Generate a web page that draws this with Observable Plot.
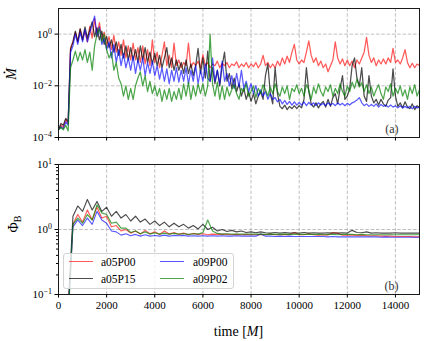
<!DOCTYPE html>
<html><head><meta charset="utf-8">
<script src="https://cdn.jsdelivr.net/npm/d3@7"></script>
<script src="https://cdn.jsdelivr.net/npm/@observablehq/plot@0.6"></script>
<style>
body{margin:0;background:#fff;}
#chart{position:relative;width:428px;height:341px;font-family:"Liberation Serif","DejaVu Serif",serif;background:#fff;overflow:hidden;}
#chart svg{position:absolute;left:0;}
#legend{position:absolute;left:63px;top:253px;width:169px;height:34px;background:rgba(255,255,255,0.8);border:1px solid #d3d3d3;border-radius:3px;font-size:11.5px;color:#000;}
#legend .sw{position:absolute;width:24px;height:0;border-top:1.5px solid;}
#legend .lb{position:absolute;line-height:12px;}
</style></head><body><div id="chart"><div id="legend"></div></div>
<script>
// ---- data ----
const seriesNames = ["a05P00", "a05P15", "a09P00", "a09P02"];
const seriesColors = ["#ff0000", "#000000", "#0000ff", "#008000"];
const seriesOpacity = [0.65, 0.7, 0.65, 0.7];

// Top panel: accretion rate, sampled every 100 M
const timeTop = d3.range(0, 15001, 100);
const mdot_a05P00 = [
 2.0e-4,3e-4,2.5e-4,5e-4,3.5e-4,0.3,0.5,1.2,0.5,1.6,
 0.6,1.3,0.5,2.0,0.7,4.0,0.8,2.8,0.6,1.2,
 0.35,0.8,0.25,0.9,0.2,0.5,0.15,0.6,0.12,0.35,
 0.1,0.45,0.1,0.3,0.08,0.35,0.07,0.25,0.06,0.6,
 0.08,0.2,0.05,0.15,0.5,0.06,0.15,0.05,0.45,0.06,
 0.1,0.05,0.08,0.06,0.45,0.05,0.08,0.06,0.09,0.05,
 0.16,0.06,0.08,0.05,0.07,0.06,0.09,0.05,0.075,0.06,
 0.08,0.05,0.07,0.06,0.085,0.05,0.07,0.055,0.08,0.05,
 0.07,0.055,0.08,0.05,0.07,0.15,0.06,0.08,0.05,0.07,
 0.05,0.09,0.06,0.12,0.07,0.14,0.08,0.2,0.4,0.1,
 0.07,0.1,0.08,0.2,0.55,0.15,0.08,0.12,0.06,0.09,
 0.05,0.07,0.035,0.06,0.1,0.5,0.12,0.07,0.11,0.06,
 0.1,0.06,0.09,0.05,0.1,0.07,0.12,0.2,0.75,0.15,
 0.08,0.12,0.06,0.1,0.07,0.11,0.07,0.12,0.08,0.28,
 0.08,0.1,0.07,0.12,0.25,0.08,0.05,0.075,0.05,0.07,
 0.06];
const mdot_a05P15 = [
 2e-4,3.5e-4,3e-4,5.5e-4,4e-4,0.25,0.5,1.3,0.5,1.6,
 0.6,1.9,0.7,1.5,3.0,0.8,1.8,0.6,1.3,0.4,
 0.8,0.3,0.6,0.2,0.5,0.15,0.4,0.12,0.35,0.1,
 0.3,0.1,0.25,0.08,0.35,0.1,0.3,0.08,0.2,0.07,
 0.18,0.06,0.15,0.05,0.12,0.3,0.05,0.12,0.04,0.1,
 0.04,0.08,0.03,0.1,0.03,0.07,0.025,0.06,0.28,0.03,
 0.12,0.02,0.22,0.015,0.05,0.012,0.04,0.01,0.06,0.2,
 0.015,0.03,0.008,0.02,0.006,0.012,0.004,0.008,0.003,0.006,
 0.0025,0.005,0.002,0.004,0.006,0.003,0.025,0.07,0.005,0.002,
 0.05,0.005,0.0016,0.0013,0.0018,0.0012,0.0016,0.0013,0.0017,0.0013,
 0.0017,0.0014,0.003,0.05,0.006,0.002,0.0015,0.0022,0.0014,0.002,
 0.0025,0.0015,0.003,0.0016,0.0035,0.005,0.002,0.008,0.025,0.003,
 0.004,0.008,0.06,0.12,0.02,0.01,0.05,0.004,0.0025,0.025,
 0.004,0.0022,0.003,0.0018,0.003,0.002,0.0016,0.0028,0.0035,0.045,
 0.004,0.0016,0.0022,0.0014,0.0024,0.0015,0.0013,0.002,0.0012,0.0017,
 0.0014];
const mdot_a09P00 = [
 2e-4,2.6e-4,2.2e-4,4e-4,3e-4,0.2,0.35,1.0,0.4,1.2,
 0.5,1.5,0.5,1.1,2.4,5.0,0.8,1.9,0.4,0.7,
 0.25,0.5,0.12,0.4,0.08,0.25,0.06,0.18,0.05,0.12,
 0.04,0.14,0.03,0.1,0.04,0.12,0.025,0.08,0.03,0.09,
 0.025,0.06,0.018,0.05,0.015,0.045,0.012,0.04,0.015,0.05,
 0.014,0.04,0.015,0.05,0.012,0.04,0.015,0.06,0.012,0.04,
 0.015,0.07,0.02,0.015,0.12,0.015,0.04,0.012,0.09,0.015,
 0.03,0.01,0.025,0.008,0.03,0.009,0.04,0.008,0.015,0.006,
 0.012,0.005,0.01,0.004,0.007,0.004,0.006,0.003,0.005,0.003,
 0.0035,0.0024,0.003,0.002,0.0027,0.0019,0.0025,0.0018,0.0024,0.0018,
 0.0023,0.0018,0.0024,0.0017,0.0023,0.0018,0.0022,0.0017,0.0022,0.0018,
 0.0021,0.0017,0.0022,0.0018,0.0021,0.0017,0.0022,0.0018,0.0021,0.0017,
 0.0021,0.0018,0.0022,0.0024,0.0028,0.0035,0.0022,0.0017,0.002,0.0016,
 0.0019,0.0016,0.002,0.0015,0.0019,0.0016,0.0018,0.0015,0.0018,0.0015,
 0.0017,0.0014,0.0017,0.0014,0.0016,0.0014,0.0016,0.0013,0.0016,0.0014,
 0.0015];
const mdot_a09P02 = [
 2e-4,2.5e-4,2e-4,3e-4,1.8e-4,0.05,0.1,0.22,0.09,0.2,
 0.1,0.25,0.08,0.2,0.04,0.35,1.0,1.6,0.5,1.0,
 0.25,0.12,0.2,0.04,0.08,0.02,0.012,0.004,0.01,0.003,
 0.008,0.003,0.01,0.02,0.035,0.01,0.025,0.006,0.015,0.005,
 0.01,0.004,0.008,0.0025,0.007,0.003,0.008,0.0025,0.006,0.003,
 0.008,0.003,0.012,0.004,0.014,0.003,0.01,0.004,0.012,0.005,
 0.012,0.004,0.01,1.0,0.012,0.004,0.014,0.003,0.01,0.003,
 0.009,0.004,0.007,0.011,0.005,0.003,0.008,0.006,0.012,0.004,
 0.006,0.01,0.0035,0.008,0.005,0.011,0.007,0.004,0.009,0.005,
 0.012,0.006,0.004,0.009,0.005,0.01,0.003,0.008,0.006,0.011,
 0.005,0.008,0.004,0.011,0.007,0.003,0.009,0.005,0.012,0.006,
 0.004,0.009,0.006,0.011,0.004,0.008,0.005,0.012,0.006,0.004,
 0.01,0.006,0.014,0.008,0.018,0.009,0.013,0.006,0.011,0.005,
 0.009,0.004,0.007,0.011,0.005,0.003,0.009,0.006,0.012,0.004,
 0.008,0.005,0.01,0.004,0.007,0.003,0.009,0.005,0.011,0.004,
 0.007];

// Bottom panel: magnetic flux, sampled every 200 M
const timeBottom = d3.range(0, 15001, 200);
const phi_a05P00 = [
 0.03,0.03,0.05,1.2,1.7,1.3,2.0,1.4,2.2,1.5,
 1.6,1.1,1.15,0.95,1.0,0.88,0.95,0.85,0.97,0.86,
 0.92,0.84,0.95,0.85,0.9,0.84,0.88,0.83,0.87,0.84,
 0.86,0.83,0.85,0.84,0.85,0.84,0.83,0.84,0.83,0.84,
 0.83,0.83,0.84,0.83,0.85,0.83,0.83,0.84,0.83,0.9,
 0.83,0.83,0.86,0.83,0.82,0.83,0.82,0.9,0.88,0.82,
 0.82,0.82,0.81,0.82,0.8,0.8,0.8,0.79,0.79,0.79,
 0.78,0.78,0.78,0.78,0.77,0.77];
const phi_a05P15 = [
 0.03,0.03,0.06,1.6,2.3,1.9,2.9,2.0,2.7,1.9,
 2.2,1.6,1.9,1.5,1.7,1.35,1.6,1.3,1.45,1.2,
 1.35,1.15,1.3,1.1,1.25,1.1,1.2,1.05,1.15,1.02,
 1.2,1.0,1.08,0.95,1.0,0.93,0.97,0.92,0.95,0.9,
 0.92,0.89,0.92,0.89,0.88,0.9,0.88,0.9,0.88,0.89,
 0.88,0.9,0.88,0.89,0.88,0.88,0.89,0.88,0.88,0.89,
 0.88,0.97,0.9,0.89,0.92,0.88,0.89,0.88,0.88,0.88,
 0.89,0.88,0.88,0.88,0.88,0.88];
const phi_a09P00 = [
 0.03,0.03,0.05,1.1,1.4,1.15,1.5,1.2,1.9,1.4,
 1.25,0.95,0.92,0.82,0.86,0.8,0.84,0.79,0.83,0.79,
 0.81,0.79,0.82,0.79,0.81,0.8,0.81,0.79,0.8,0.79,
 0.8,0.79,0.8,0.79,0.8,0.79,0.79,0.8,0.79,0.79,
 0.79,0.79,0.85,0.79,0.79,0.78,0.79,0.78,0.79,0.78,
 0.78,0.78,0.78,0.78,0.78,0.78,0.77,0.78,0.77,0.77,
 0.77,0.77,0.77,0.77,0.77,0.77,0.77,0.76,0.77,0.76,
 0.76,0.76,0.76,0.76,0.76,0.76];
const phi_a09P02 = [
 0.03,0.03,0.04,1.2,1.5,1.25,1.7,1.4,2.4,1.8,
 1.7,1.25,1.3,1.05,1.05,0.9,0.95,0.86,0.92,0.85,
 0.89,0.85,0.88,0.85,0.87,0.85,0.86,0.84,0.86,0.85,
 0.9,1.4,0.95,0.87,0.85,0.86,0.85,0.85,0.85,0.85,
 0.85,0.85,0.85,0.84,0.85,0.84,0.84,0.85,0.84,0.84,
 0.84,0.84,0.84,0.84,0.84,0.83,0.84,0.84,0.83,0.84,
 0.84,0.84,0.83,0.84,0.83,0.83,0.83,0.83,0.83,0.83,
 0.83,0.83,0.83,0.83,0.83,0.83];

const xTicks = [0, 2000, 4000, 6000, 8000, 10000, 12000, 14000];
const xGrid = [2000, 4000, 6000, 8000, 10000, 12000, 14000];
const yTicksTop = [1e-4, 1e-2, 1];
const yGridTop = [1e-2, 1];
const yTicksBottom = [0.1, 1, 10];
const yGridBottom = [1];
const yMinorBottom = [0.2,0.3,0.4,0.5,0.6,0.7,0.8,0.9,2,3,4,5,6,7,8,9];

// ---- build tables ----
const mdotSeries = [mdot_a05P00, mdot_a05P15, mdot_a09P00, mdot_a09P02];
const phiSeries = [phi_a05P00, phi_a05P15, phi_a09P00, phi_a09P02];
const tableTop = mdotSeries.map(vals => timeTop.map((t, i) => ({t, v: vals[i]})));
const tableBottom = phiSeries.map(vals => timeBottom.map((t, i) => ({t, v: vals[i]})));

const FONT = "'Liberation Serif', 'DejaVu Serif', serif";
const gridStyle = {stroke: "#b0b0b0", strokeDasharray: "3.5,1.8", strokeWidth: 0.8};

function lines(tables, w) {
  return tables.map((d, k) => Plot.line(d, {x: "t", y: "v", stroke: seriesColors[k], strokeOpacity: seriesOpacity[k], strokeWidth: w, clip: true}));
}

const svgTop = Plot.plot({
  width: 428, height: 150,
  marginLeft: 58, marginRight: 9, marginTop: 8, marginBottom: 13,
  style: {fontFamily: FONT, fontSize: "11px", background: "transparent", color: "#000", overflow: "visible"},
  x: {domain: [0, 15000]},
  y: {type: "log", domain: [1e-4, 9.8]},
  marks: [
    Plot.ruleX(xGrid, gridStyle),
    Plot.ruleY(yGridTop, gridStyle),
    ...lines(tableTop, 1.25),
    Plot.frame({stroke: "#1a1a1a", strokeWidth: 1}),
    Plot.axisX({ticks: xTicks, tickSize: 3.5, tickFormat: () => "", label: null}),
    Plot.axisY({ticks: yTicksTop, tickSize: 3.5, tickPadding: 3, tickFormat: d => String(Math.round(Math.log10(d))), label: null}),
    Plot.text(["(a)"], {frameAnchor: "bottom-right", dx: -21, dy: -5, fontSize: 12, fill: "#333"})
  ]
});

const svgBottom = Plot.plot({
  width: 428, height: 191,
  marginLeft: 58, marginRight: 9, marginTop: 14, marginBottom: 47,
  style: {fontFamily: FONT, fontSize: "11px", background: "transparent", color: "#000", overflow: "visible"},
  x: {domain: [0, 15000]},
  y: {type: "log", domain: [0.1, 10]},
  marks: [
    Plot.ruleX(xGrid, gridStyle),
    Plot.ruleY(yGridBottom, gridStyle),
    ...lines(tableBottom, 1.15),
    Plot.frame({stroke: "#1a1a1a", strokeWidth: 1}),
    Plot.axisX({ticks: xTicks, tickSize: 3.5, tickPadding: 3, tickFormat: d => String(d), label: null}),
    Plot.axisY({ticks: yMinorBottom, tickSize: 2, tickFormat: () => "", label: null}),
    Plot.axisY({ticks: yTicksBottom, tickSize: 3.5, tickPadding: 3, tickFormat: d => String(Math.round(Math.log10(d))), label: null}),
    Plot.text(["(b)"], {frameAnchor: "bottom-right", dx: -21, dy: -5, fontSize: 12, fill: "#333"})
  ]
});

function superscriptTicks(svg) {
  d3.select(svg).selectAll('g[aria-label="y-axis tick label"] text').each(function() {
    const e = this.textContent;
    if (!e) return;
    const t = d3.select(this);
    t.text("10");
    t.append("tspan").attr("dy", "-0.45em").attr("font-size", "0.72em").text(e.replace("-", "\u2212"));
  });
}
superscriptTicks(svgTop);
superscriptTicks(svgBottom);

// axis titles
const mLab = d3.select(svgTop).append("g").attr("transform", "translate(16,74) rotate(-90)");
mLab.append("text").attr("text-anchor", "middle").attr("font-size", 14).attr("font-style", "italic")
  .attr("font-family", FONT).attr("fill", "#000").text("M");
mLab.append("circle").attr("cx", 1.6).attr("cy", -11.6).attr("r", 0.95).attr("fill", "#000");
const phiLab = d3.select(svgBottom).append("text")
  .attr("transform", "translate(18,74) rotate(-90)")
  .attr("text-anchor", "middle").attr("font-size", 14)
  .attr("font-family", FONT).attr("fill", "#000");
phiLab.append("tspan").text("\u03A6");
phiLab.append("tspan").attr("font-size", 10).attr("dy", 3).text("B");
const xLab = d3.select(svgBottom).append("text")
  .attr("x", 238.5).attr("y", 186).attr("text-anchor", "middle").attr("font-size", 14)
  .attr("font-family", FONT).attr("fill", "#000");
xLab.append("tspan").text("time [");
xLab.append("tspan").attr("font-style", "italic").text("M");
xLab.append("tspan").text("]");

const chart = document.getElementById("chart");
svgTop.style.top = "0px";
svgBottom.style.top = "150px";
chart.insertBefore(svgBottom, chart.firstChild);
chart.insertBefore(svgTop, chart.firstChild);

// legend
const legend = document.getElementById("legend");
const legendPos = [[5, 8, 37], [5, 25, 37], [96, 8, 129], [96, 25, 129]];
seriesNames.forEach((name, k) => {
  const [sx, sy, tx] = legendPos[k];
  const sw = document.createElement("div");
  sw.className = "sw";
  sw.style.left = sx + "px"; sw.style.top = (sy - 1) + "px";
  sw.style.borderColor = seriesColors[k]; sw.style.opacity = seriesOpacity[k];
  legend.appendChild(sw);
  const lb = document.createElement("div");
  lb.className = "lb";
  lb.style.left = tx + "px"; lb.style.top = (sy - 6) + "px";
  lb.textContent = name;
  legend.appendChild(lb);
});
</script></body></html>
